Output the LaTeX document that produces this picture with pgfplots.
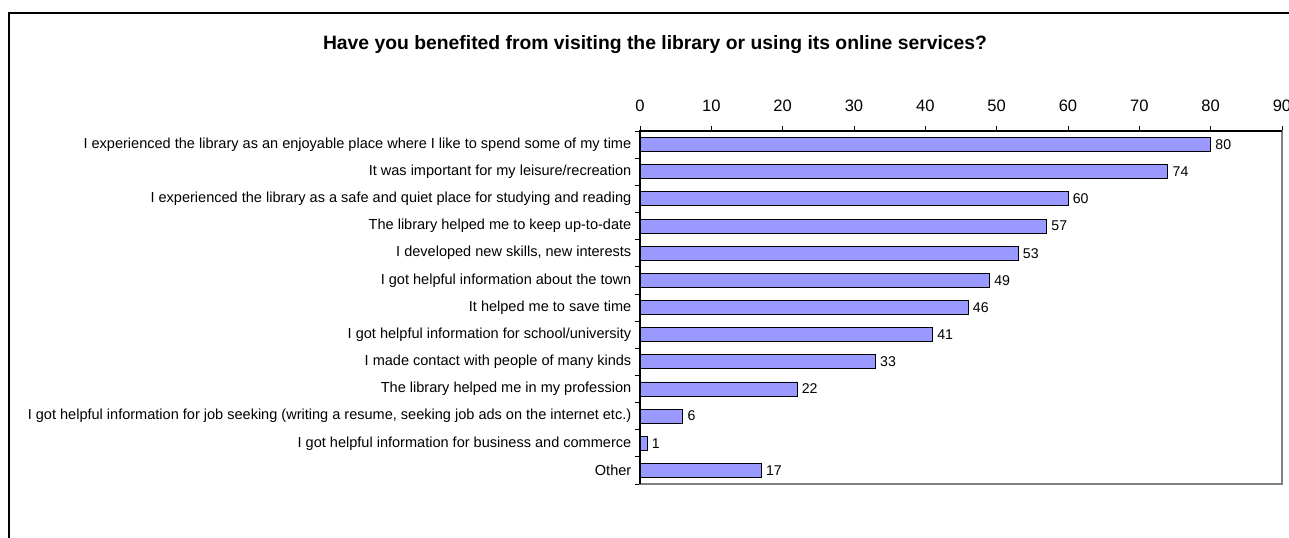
\documentclass[border=0pt]{standalone}
\usepackage{pgfplots}
\pgfplotsset{compat=1.18}
\usepackage{fontspec}
\setmainfont{Liberation Sans}
\definecolor{barblue}{HTML}{9999FF}
\definecolor{rimgray}{HTML}{808080}
\newcommand{\lbl}{\fontsize{10.9}{13}\selectfont}
\begin{document}
\begin{tikzpicture}
% page = 1289 x 538 px, 1 px = 0.75pt, origin at the axis' lower left corner
\useasboundingbox (-480pt,-40.5pt) rectangle (486.75pt,363pt);
\begin{axis}[
    scale only axis,
    width=481.5pt, height=264.75pt,
    xbar, bar width=10.5pt,
    xmin=0, xmax=90,
    xtick={0,10,...,90},
    xtick pos=right, xticklabel pos=right,
    xticklabel style={font=\fontsize{12.4}{14}\selectfont, yshift=7.5pt},
    ymin=-0.5, ymax=12.5, y dir=reverse,
    ytick={-0.5,0.5,...,12.5}, yticklabels={},
    ytick pos=left,
    extra y ticks={0,...,12},
    extra y tick style={major tick length=0pt,
        yticklabel style={font=\lbl, xshift=-3pt}},
    extra y tick labels={
        I experienced the library as an enjoyable place where I like to spend some of my time,
        It was important for my leisure/recreation,
        I experienced the library as a safe and quiet place for studying and reading,
        The library helped me to keep up-to-date,
        {I developed new skills, new interests},
        I got helpful information about the town,
        It helped me to save time,
        I got helpful information for school/university,
        I made contact with people of many kinds,
        The library helped me in my profession,
        {I got helpful information for job seeking (writing a resume, seeking job ads on the internet etc.)},
        I got helpful information for business and commerce,
        Other},
    tick align=outside,
    major tick length=3.75pt,
    tick style={black, line width=0.6pt},
    /pgf/number format/assume math mode=true,
    axis line style={rimgray, line width=0.9pt},
    nodes near coords,
    nodes near coords style={font=\fontsize{10.6}{13}\selectfont, anchor=west, black},
    clip=false,
]
\addplot[fill=barblue, draw=black, line width=0.6pt] coordinates {
    (80,0) (74,1) (60,2) (57,3) (53,4) (49,5) (46,6)
    (41,7) (33,8) (22,9) (6,10) (1,11) (17,12)
};
\draw[black, line width=0.9pt] (rel axis cs:0,0) -- (rel axis cs:0,1) -- (rel axis cs:1,1);
\end{axis}
\begin{scope}[x=0.75pt,y=0.75pt]
\draw[black, line width=0.9pt] (-631,-80) -- (-631,471) -- (700,471);
\node[font=\fontsize{14.5}{17}\selectfont\bfseries] at (15,439)
    {Have you benefited from visiting the library or using its online services?};
\end{scope}
\end{tikzpicture}
\end{document}
